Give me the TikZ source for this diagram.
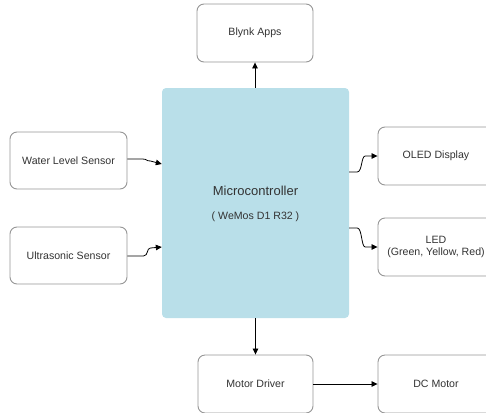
\documentclass[tikz,border=0pt]{standalone}
\usepackage{fontspec}
\setmainfont{Liberation Sans}
\usetikzlibrary{arrows.meta}
\definecolor{mcblue}{RGB}{185,223,233}
\definecolor{boxline}{RGB}{150,150,150}
\definecolor{txt}{RGB}{51,51,51}
\begin{document}
\begin{tikzpicture}[x=1pt,y=-1pt,
  box/.style={draw=boxline,line width=0.9pt,rounded corners=7pt,fill=white,
    minimum width=116pt,minimum height=58pt,inner sep=0pt,
    font=\fontsize{10.6}{12.5}\selectfont,text=txt,align=center},
  mcbox/.style={fill=mcblue,rounded corners=4pt,minimum width=187pt,minimum height=230pt,inner sep=0pt},
  conn/.style={draw=black,line width=0.8pt,-{Triangle[length=6pt,width=5.5pt]}}]
\useasboundingbox (0,0) rectangle (486,412);
\clip (0,0) rectangle (486,412);
% nodes
\node[mcbox] (mc) at (255.5,203) {};
\node[font=\fontsize{13}{15}\selectfont,text=txt] (mct) at (255.5,191) {Microcontroller};
\node[font=\fontsize{10.6}{12.5}\selectfont,text=txt] (mcs) at (255.5,217) {( WeMos D1 R32 )};
\node[box] (blynk) at (255,33) {Blynk Apps};
\node[box,minimum width=117pt,minimum height=57pt] (water) at (68.5,160.5) {Water Level Sensor};
\node[box,minimum width=117pt,minimum height=57pt] (ultra) at (68.5,255.5) {Ultrasonic Sensor};
\node[box] (oled) at (436,156) {OLED Display};
\node[box] (led) at (436,247) {LED\\(Green, Yellow, Red)};
\node[box,minimum width=115pt] (driver) at (255.5,384) {Motor Driver};
\node[box] (dc) at (436,384) {DC Motor};
% connectors
\draw[conn] (mc.north -| blynk.south) -- (blynk.south);
\draw[conn] (mc.south -| driver.north) -- (driver.north);
\draw[conn] (driver.east) -- (dc.west);
\coordinate (wend) at (mc.west |- 0,164);
\draw[conn] ([yshift=1.5pt]water.east) -- ++(15,0) .. controls ++(5,0) and ++(-5,0) .. ++(8,2) -- (wend);
\coordinate (uend) at (mc.west |- 0,247);
\draw[conn] ([yshift=-0.5pt]ultra.east) -- ++(16,0) .. controls ++(5,0) and ++(-4,0) .. ++(7,-8) -- (uend);
\coordinate (ostart) at (mc.east |- 0,172);
\draw[conn] (ostart) -- ++(8,0) .. controls ++(5,0) and ++(-4,0) .. ++(8,-16) -- (oled.west);
\coordinate (lstart) at (mc.east |- 0,228);
\draw[conn] (lstart) -- ++(8,0) .. controls ++(5,0) and ++(-4,0) .. ++(8,19) -- (led.west);
\end{tikzpicture}
\end{document}
